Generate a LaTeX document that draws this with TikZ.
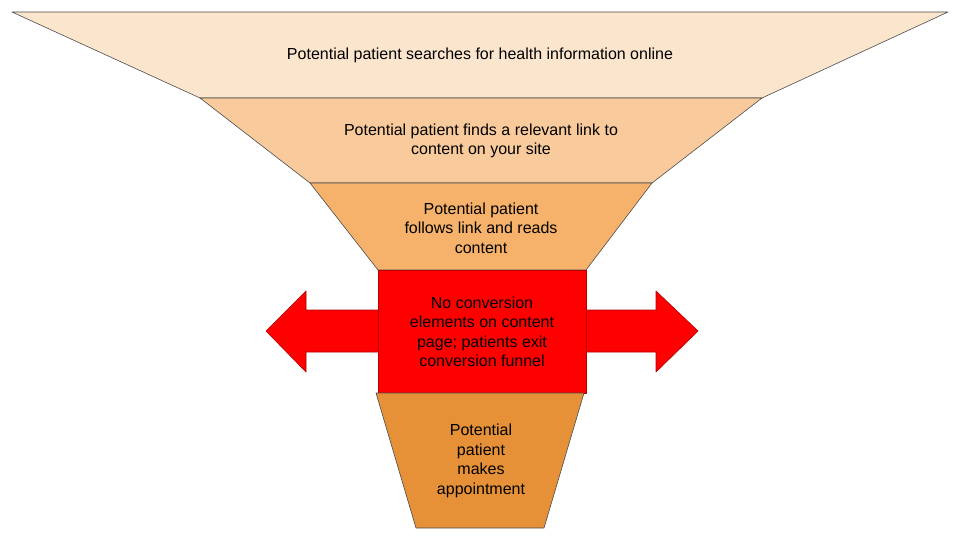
\documentclass[tikz,border=0pt]{standalone}
\usepackage{fontspec}
\setmainfont{Liberation Sans}
\begin{document}
\begin{tikzpicture}[x=1pt,y=-1pt,
  stage/.style={draw=black!70,line width=0.6pt,line join=round},
  lbl/.style={align=center,font=\fontsize{16}{19.5}\selectfont,text=black}]
\useasboundingbox (0,0) rectangle (960,540);
\definecolor{c1}{HTML}{FCE5CD}
\definecolor{c2}{HTML}{F9CB9C}
\definecolor{c3}{HTML}{F6B26B}
\definecolor{c5}{HTML}{E69138}
\filldraw[stage,fill=c1] (12,12) -- (948,12) -- (762,98) -- (200,98) -- cycle;
\filldraw[stage,fill=c2] (200,98) -- (762,98) -- (652,183) -- (310,183) -- cycle;
\filldraw[stage,fill=c3] (310,183) -- (652,183) -- (586,270) -- (378,270) -- cycle;
\filldraw[stage,fill=red,draw=red!70!black] (266,331) -- (306,291) -- (306,310) -- (656,310) -- (656,291) -- (698,331) -- (656,372) -- (656,352) -- (306,352) -- (306,372) -- cycle;
\filldraw[stage,fill=red,draw=red!70!black] (378,270) rectangle (586,393);
\filldraw[stage,fill=c5] (376,393) -- (584,393) -- (544,528) -- (416,528) -- cycle;
\node[lbl] (t1) at (480,55) {Potential patient searches for health information online};
\node[lbl] (t2) at (481,141) {Potential patient finds a relevant link to\\content on your site};
\node[lbl] (t3) at (481,228) {Potential patient\\follows link and reads\\content};
\node[lbl] (t4) at (482,332) {No conversion\\elements on content\\page; patients exit\\conversion funnel};
\node[lbl] (t5) at (481,461) {Potential\\patient\\makes\\appointment};
\end{tikzpicture}
\end{document}
